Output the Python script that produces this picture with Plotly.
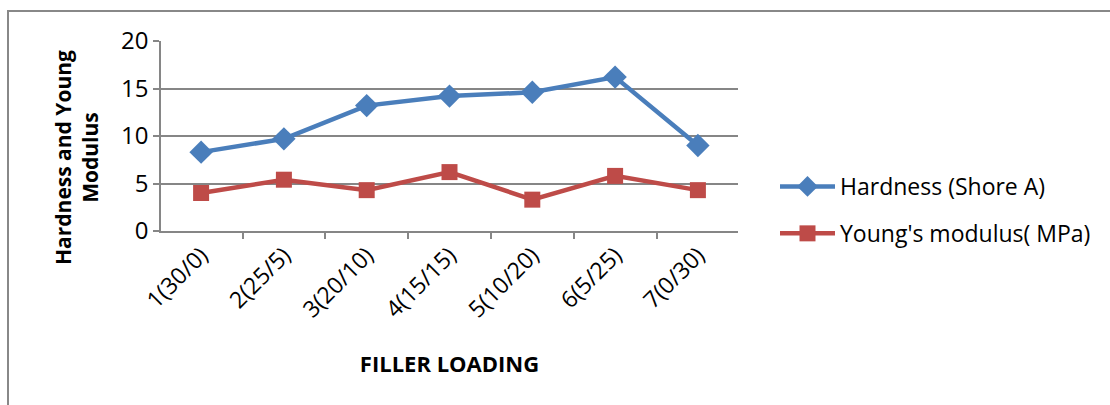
import plotly.graph_objects as go

categories = ["1(30/0)", "2(25/5)", "3(20/10)", "4(15/15)", "5(10/20)", "6(5/25)", "7(0/30)"]
hardness = [8.3, 9.7, 13.2, 14.2, 14.6, 16.2, 9.0]
youngs_modulus = [4.0, 5.4, 4.3, 6.2, 3.3, 5.8, 4.3]

FONT = "Open Sans"
GRID = "#868686"

fig = go.Figure()
fig.add_trace(go.Scatter(
    x=categories, y=hardness, name="Hardness (Shore A)",
    mode="lines+markers", legendgroup="a",
    line=dict(color="#4a7ebb", width=4.5),
    marker=dict(symbol="diamond", size=18, color="#4a7ebb"),
))
fig.add_trace(go.Scatter(
    x=categories, y=youngs_modulus, name="Young's modulus( MPa)",
    mode="lines+markers", legendgroup="b",
    line=dict(color="#be4b48", width=4.5),
    marker=dict(symbol="square", size=16, color="#be4b48"),
))

fig.update_layout(
    width=1110, height=405,
    margin=dict(l=161, r=372, t=41, b=174),
    paper_bgcolor="white", plot_bgcolor="white",
    font=dict(family=FONT, size=23, color="black"),
    legend=dict(
        x=(775 - 161) / 577, xref="paper", xanchor="left",
        y=(231 - 210) / 190, yref="paper", yanchor="middle",
        font=dict(size=23, color="black"), itemwidth=55,
        tracegroupgap=14, traceorder="grouped",
    ),
    showlegend=True,
)

fig.update_xaxes(
    type="category", showline=True, linecolor=GRID, linewidth=1.5,
    ticks="outside", tickson="boundaries", ticklen=6, tickcolor=GRID, tickwidth=1.5,
    tickangle=-45, tickfont=dict(size=23), showgrid=False,
    title=dict(text="<b>FILLER LOADING</b>", font=dict(size=22), standoff=34),
)
fig.update_yaxes(
    range=[0, 20], dtick=5, showline=True, linecolor=GRID, linewidth=1.5,
    ticks="outside", ticklen=6, tickcolor=GRID, tickwidth=1.5,
    showgrid=True, gridcolor=GRID, gridwidth=1.5, zeroline=False,
    tickfont=dict(size=24),
)

# y-axis title, two lines, rotated
fig.add_annotation(
    text="<b>Hardness and Young<br>Modulus</b>",
    xref="paper", yref="paper",
    x=(76 - 161) / 577, y=(231 - 158) / 190,
    xanchor="center", yanchor="middle",
    textangle=-90, showarrow=False,
    font=dict(size=21, color="black"),
)

# outer chart frame
fig.add_shape(type="rect", xref="paper", yref="paper",
              x0=(8 - 161) / 577, x1=(1120 - 161) / 577,
              y0=(231 - 420) / 190, y1=(231 - 11) / 190,
              line=dict(color="#888888", width=2), fillcolor="rgba(0,0,0,0)", layer="below")

fig.write_html("out.html")
